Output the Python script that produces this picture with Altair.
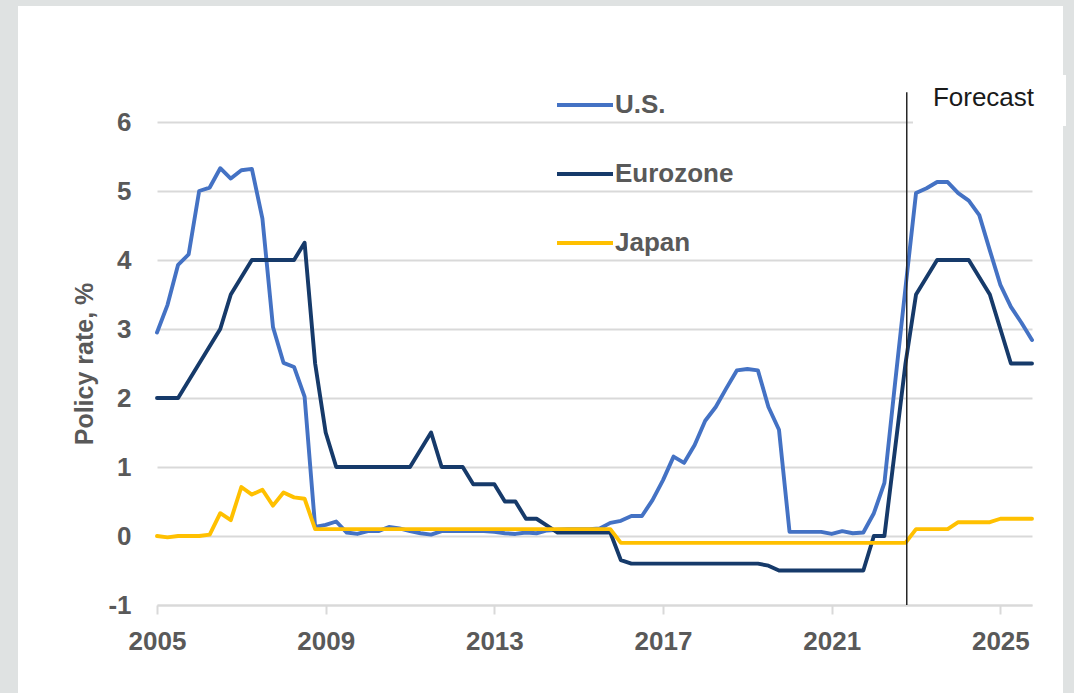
import altair as alt
import pandas as pd

# Quarterly policy rates, 2005Q1 - 2025Q4 (forecast from 2023)
quarters = [f"{y}Q{q}" for y in range(2005, 2026) for q in range(1, 5)]

us_rate = [
    2.95, 3.35, 3.93, 4.08, 5.00, 5.05, 5.33, 5.18, 5.30, 5.32,
    4.60, 3.03, 2.51, 2.45, 2.02, 0.13, 0.16, 0.21, 0.05, 0.03,
    0.07, 0.07, 0.13, 0.11, 0.07, 0.04, 0.02, 0.07, 0.07, 0.07,
    0.07, 0.07, 0.06, 0.04, 0.03, 0.05, 0.04, 0.08, 0.09, 0.10,
    0.10, 0.10, 0.11, 0.19, 0.22, 0.29, 0.29, 0.52, 0.81, 1.15,
    1.06, 1.32, 1.67, 1.87, 2.14, 2.40, 2.42, 2.40, 1.87, 1.54,
    0.06, 0.06, 0.06, 0.06, 0.03, 0.07, 0.04, 0.05, 0.33, 0.77,
    2.20, 3.60, 4.97, 5.04, 5.13, 5.13, 4.97, 4.86, 4.65, 4.14,
    3.64, 3.32, 3.09, 2.84,
]

ez_rate = [
    2.00, 2.00, 2.00, 2.25, 2.50, 2.75, 3.00, 3.50, 3.75, 4.00,
    4.00, 4.00, 4.00, 4.00, 4.25, 2.50, 1.50, 1.00, 1.00, 1.00,
    1.00, 1.00, 1.00, 1.00, 1.00, 1.25, 1.50, 1.00, 1.00, 1.00,
    0.75, 0.75, 0.75, 0.50, 0.50, 0.25, 0.25, 0.15, 0.05, 0.05,
    0.05, 0.05, 0.05, 0.05, -0.35, -0.40, -0.40, -0.40, -0.40, -0.40,
    -0.40, -0.40, -0.40, -0.40, -0.40, -0.40, -0.40, -0.40, -0.43, -0.50,
    -0.50, -0.50, -0.50, -0.50, -0.50, -0.50, -0.50, -0.50, 0.00, 0.00,
    1.25, 2.50, 3.50, 3.75, 4.00, 4.00, 4.00, 4.00, 3.75, 3.50,
    3.00, 2.50, 2.50, 2.50,
]

jp_rate = (
    [0.00, -0.02, 0.00, 0.00, 0.00, 0.02, 0.33, 0.23, 0.71, 0.60,
     0.67, 0.44, 0.63, 0.56, 0.54]
    + [0.10] * 29
    + [-0.10] * 28
    + [0.10] * 4
    + [0.20] * 4
    + [0.25] * 4
)

series_names = ["U.S.", "Eurozone", "Japan"]
series_colors = ["#4472C4", "#163A6A", "#FFC000"]
series_values = [us_rate, ez_rate, jp_rate]

year_ticks = [2005, 2009, 2013, 2017, 2021, 2025]
rate_ticks = [-1, 0, 1, 2, 3, 4, 5, 6]

forecast_start = [2022.78]
forecast_top = [6.43]
forecast_bottom = [-1]
forecast_label = ["Forecast"]
forecast_label_x = [2023.4]
forecast_label_y = [6.35]


def quarter_to_year(q):
    return int(q[:4]) + (int(q[-1]) - 1) / 4


rows = []
for name, vals in zip(series_names, series_values):
    for q, v in zip(quarters, vals):
        rows.append({"series": name, "t": quarter_to_year(q), "rate": v})
rates = pd.DataFrame(rows)

W, H = 875, 483
FONT = "Liberation Sans"
GREY_TEXT = "#595959"
GRID = "#d9d9d9"
FRAME = "#dfe2e2"

x_scale = alt.Scale(domain=[2005, 2025.75], nice=False, zero=False)
y_scale = alt.Scale(domain=[-1, 6], nice=False, zero=False)
color_scale = alt.Scale(domain=series_names, range=series_colors)

x_axis = alt.Axis(
    values=year_ticks, format="d", grid=False, title=None,
    domainColor=GRID, domainWidth=2, tickColor=GRID, tickWidth=2, tickSize=9,
    labelFont=FONT, labelFontWeight="bold", labelFontSize=26, labelColor=GREY_TEXT,
    labelPadding=14, labelFlush=False,
)
y_axis = alt.Axis(
    values=rate_ticks, grid=True, gridColor=GRID, gridWidth=2,
    domain=False, ticks=False,
    labelExpr="'' + datum.value",
    labelFont=FONT, labelFontWeight="bold", labelFontSize=26, labelColor=GREY_TEXT,
    labelPadding=26,
    title="Policy rate, %", titleFont=FONT, titleFontWeight="bold",
    titleFontSize=25, titleColor=GREY_TEXT, titlePadding=10,
)
legend = alt.Legend(
    title=None, orient="none", legendX=398, legendY=-47, direction="vertical",
    symbolType="stroke", symbolSize=3136, symbolStrokeWidth=4,
    labelFont=FONT, labelFontWeight="bold", labelFontSize=26, labelColor=GREY_TEXT,
    labelOffset=0, rowPadding=26, padding=0,
)


def xenc(field="t"):
    return alt.X(f"{field}:Q", scale=x_scale, axis=x_axis)


def yenc(field="rate"):
    return alt.Y(f"{field}:Q", scale=y_scale, axis=y_axis)


def series_layer(name):
    return (
        alt.Chart(rates)
        .transform_filter(alt.datum.series == name)
        .mark_line(strokeWidth=3.9, strokeJoin="round", strokeCap="round")
        .encode(
            x=xenc(),
            y=yenc(),
            color=alt.Color("series:N", scale=color_scale, legend=legend),
        )
    )


# Grey frame around the white card
frame_left = alt.Chart(rates).mark_rect(color=FRAME).encode(
    x=alt.value(-157), x2=alt.value(-139), y=alt.value(-122), y2=alt.value(571))
frame_top = alt.Chart(rates).mark_rect(color=FRAME).encode(
    x=alt.value(-157), x2=alt.value(917), y=alt.value(-122), y2=alt.value(-116))
frame_right = alt.Chart(rates).mark_rect(color=FRAME).encode(
    x=alt.value(906), x2=alt.value(917), y=alt.value(-122), y2=alt.value(571))

# White box behind the forecast caption
caption_box = alt.Chart(rates).mark_rect(color="white").encode(
    x=alt.value(756), x2=alt.value(909), y=alt.value(-47), y2=alt.value(4))

forecast_df = pd.DataFrame({
    "t": forecast_start, "rate": forecast_top, "bottom": forecast_bottom,
})
forecast_rule = alt.Chart(forecast_df).mark_rule(color="#262626", strokeWidth=1.5).encode(
    x=xenc(), y=yenc(), y2="bottom:Q")

caption_df = pd.DataFrame({
    "t": forecast_label_x, "rate": forecast_label_y, "label": forecast_label,
})
caption = alt.Chart(caption_df).mark_text(
    align="left", baseline="middle", font=FONT, fontSize=26, color="#1a1a1a"
).encode(x=xenc(), y=yenc(), text="label:N")

chart = alt.layer(
    frame_left, frame_top, frame_right, caption_box,
    *[series_layer(n) for n in series_names],
    forecast_rule, caption,
).properties(
    width=W, height=H,
    autosize=alt.AutoSizeParams(type="none"),
    padding={"left": 157, "top": 122, "right": 42, "bottom": 88},
    background="white",
).configure_view(stroke=None)

chart.save("out.html", embed_options={"renderer": "svg", "actions": False})
